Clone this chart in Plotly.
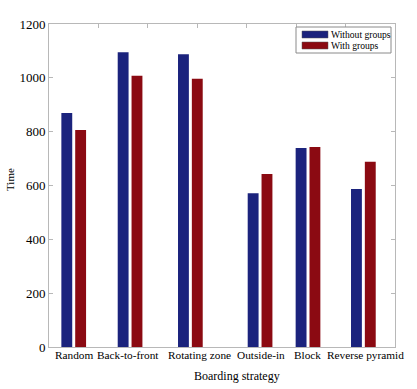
import plotly.graph_objects as go

strategies = ["Random", "Back-to-front", "Rotating zone", "Outside-in", "Block", "Reverse pyramid"]
group_pos = [0.5, 1.64, 2.86, 4.27, 5.24, 6.36]
label_pos = [0.50, 1.59, 3.05, 4.29, 5.23, 6.41]
without_groups = [869, 1095, 1088, 571, 739, 587]
with_groups = [806, 1008, 997, 643, 743, 688]
y_ticks = [0, 200, 400, 600, 800, 1000, 1200]
series_names = ["Without groups", "With groups"]

BLUE = "#1b237d"
RED = "#8b0a12"
FONT = "Liberation Serif"
AXC = "#b8b8b8"

W, H = 417, 389
L, R, T, B = 49, 22, 24, 42
PW, PH = W - L - R, H - T - B


def px_x(px):
    return (px - L) / PW


def px_y(py):
    return (H - B - py) / PH


fig = go.Figure()
fig.add_trace(go.Bar(x=group_pos, y=without_groups, name=series_names[0],
                     marker=dict(color=BLUE, line=dict(width=0)),
                     width=0.22, offset=-0.25, showlegend=False))
fig.add_trace(go.Bar(x=group_pos, y=with_groups, name=series_names[1],
                     marker=dict(color=RED, line=dict(width=0)),
                     width=0.22, offset=0.03, showlegend=False))
fig.add_trace(go.Scatter(x=[0, 7], y=[0, 0], xaxis="x2", mode="markers",
                         marker=dict(opacity=0), showlegend=False, hoverinfo="skip"))

annotations = []
for pos, name in zip(label_pos, strategies):
    annotations.append(dict(x=pos, y=0, xref="x", yref="paper", text=name, showarrow=False,
                            yanchor="top", xanchor="center", yshift=0,
                            font=dict(family=FONT, size=11.3, color="black")))
annotations.append(dict(x=px_x(237), y=px_y(376), xref="paper", yref="paper",
                        text="Boarding strategy", showarrow=False, xanchor="center",
                        yanchor="middle", font=dict(family=FONT, size=12, color="black")))
annotations.append(dict(x=px_x(10), y=px_y(180), xref="paper", yref="paper",
                        text="Time", showarrow=False, xanchor="center", yanchor="middle",
                        textangle=-90, font=dict(family=FONT, size=11, color="black")))

# custom legend
shapes = [dict(type="rect", xref="paper", yref="paper",
               x0=px_x(296), x1=px_x(391), y0=px_y(53), y1=px_y(27),
               line=dict(color="#8a8a8a", width=1), fillcolor="white")]
for i, (name, col) in enumerate(zip(series_names, [BLUE, RED])):
    y0, y1 = (31, 38) if i == 0 else (42, 49)
    shapes.append(dict(type="rect", xref="paper", yref="paper",
                       x0=px_x(302), x1=px_x(328), y0=px_y(y1), y1=px_y(y0),
                       line=dict(color="#555555", width=0.5), fillcolor=col))
    annotations.append(dict(x=px_x(329), y=px_y((y0 + y1) / 2), xref="paper", yref="paper",
                            text=name, showarrow=False, xanchor="left", yanchor="middle",
                            font=dict(family=FONT, size=9.6, color="black")))

fig.update_layout(
    width=W, height=H,
    margin=dict(l=L, r=R, t=T, b=B, autoexpand=False),
    paper_bgcolor="white", plot_bgcolor="white",
    font=dict(family=FONT, size=12, color="black"),
    barmode="overlay",
    showlegend=False,
    annotations=annotations,
    shapes=shapes,
    xaxis=dict(range=[0, 7], showticklabels=False, ticks="", showgrid=False, zeroline=False,
               showline=True, linecolor=AXC, linewidth=1, automargin=False),
    xaxis2=dict(range=[0, 7], overlaying="x", side="top", tickvals=[1, 2, 3, 4, 5, 6],
                ticks="inside", ticklen=4, tickcolor=AXC, showticklabels=False,
                showgrid=False, zeroline=False, showline=True, linecolor=AXC, linewidth=1),
    yaxis=dict(range=[0, 1200], tickvals=y_ticks, ticks="inside", ticklen=4, tickcolor=AXC,
               showgrid=False, zeroline=False, showline=True, linecolor=AXC, linewidth=1,
               mirror="ticks", automargin=False,
               tickfont=dict(family=FONT, size=13)),
)

fig.write_html("out.html", config={"displayModeBar": False},
               post_script="document.body.style.margin='0';document.body.style.overflow='hidden';")
